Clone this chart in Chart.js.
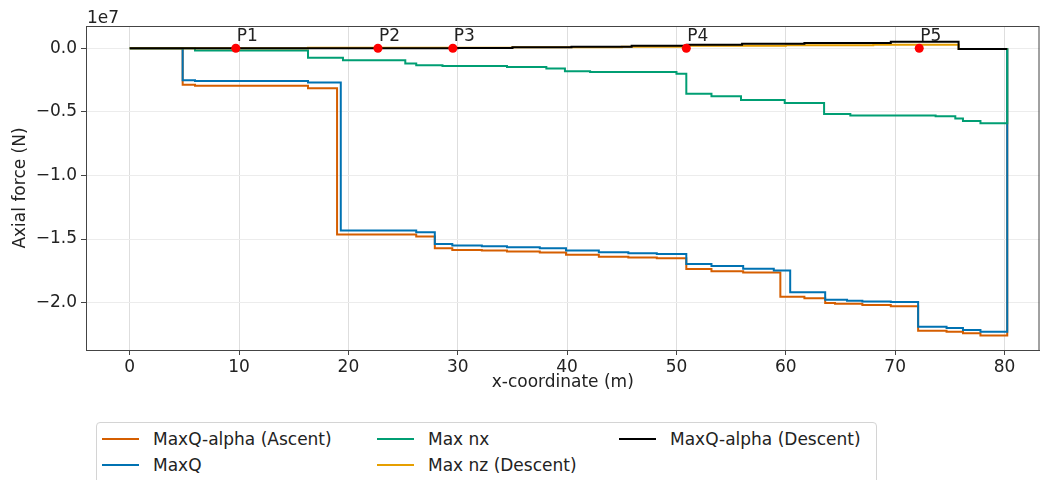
<!DOCTYPE html>
<html>
<head>
<meta charset="utf-8">
<script src="https://cdn.jsdelivr.net/npm/chart.js@4"></script>
<style>
body{margin:0;background:#fff;font-family:"DejaVu Sans",sans-serif;}
#wrap{position:relative;width:1044px;height:480px;overflow:hidden;}
#legend{position:absolute;left:96px;top:422px;width:781px;height:72px;border:1px solid #d4d4d4;border-radius:4px;box-sizing:border-box;
  padding:3px 0 0 5px;display:grid;grid-template-columns:275px 242px auto;grid-template-rows:26px 26px;grid-auto-flow:column;
  font-size:17px;color:#222;}
.item{display:flex;align-items:center;white-space:nowrap;}
.swatch{width:37px;height:2px;margin-right:14px;}
</style>
</head>
<body>
<div id="wrap">
  <canvas id="chart" width="1044" height="400"></canvas>
  <div id="legend"></div>
</div>
<script>
'use strict';

// step breakpoints (m) and axial force (units of 1e7 N), value holds until next breakpoint
let xAscent = [0, 4.84, 5.97, 16.3, 18.96, 26.2, 27.9, 29.5, 32.2, 34.5, 37.5, 39.9, 42.9, 45.6, 48.2, 50.9, 53.2, 56.1, 59.5, 61.7, 63.6, 64.5, 67.0, 69.6, 72.1, 74.7, 76.2, 77.8, 80.25];
let ascent = [0, -0.286, -0.294, -0.314, -1.465, -1.48, -1.572, -1.585, -1.59, -1.598, -1.606, -1.624, -1.638, -1.645, -1.651, -1.735, -1.753, -1.762, -1.953, -1.966, -2.003, -2.008, -2.018, -2.029, -2.22, -2.228, -2.241, -2.258, 0];

let xMaxQ = [0, 4.84, 5.97, 16.3, 19.3, 26.2, 27.9, 29.5, 32.2, 34.5, 37.5, 39.9, 42.9, 45.6, 48.2, 50.9, 53.2, 56.1, 58.9, 60.4, 63.6, 65.6, 67.0, 69.6, 72.1, 74.7, 76.2, 77.8, 80.25];
let maxQ = [0, -0.252, -0.258, -0.27, -1.433, -1.446, -1.538, -1.551, -1.556, -1.564, -1.572, -1.59, -1.604, -1.611, -1.617, -1.695, -1.712, -1.733, -1.748, -1.919, -1.976, -1.984, -1.99, -1.995, -2.189, -2.2, -2.215, -2.228, 0];

let xNx = [0, 5.97, 16.3, 19.5, 25.2, 26.2, 28.6, 34.5, 38.1, 39.8, 42.1, 50.0, 50.9, 53.2, 55.9, 59.9, 63.5, 65.9, 73.7, 75.5, 76.2, 77.8, 80.25];
let maxNx = [0, -0.018, -0.075, -0.095, -0.12, -0.133, -0.139, -0.147, -0.16, -0.181, -0.187, -0.2, -0.357, -0.378, -0.407, -0.43, -0.517, -0.528, -0.534, -0.552, -0.572, -0.59, 0];

let xNz = [0, 16.3, 35, 45, 51, 60, 68, 75.8, 80.25];
let maxNz = [0, 0.005, 0.008, 0.012, 0.02, 0.024, 0.028, -0.005, -0.005];

let xDescent = [0, 30, 35, 40.4, 45.9, 51, 56, 61.7, 69.6, 75.8, 80.25];
let descent = [0, 0.003, 0.007, 0.012, 0.02, 0.028, 0.035, 0.042, 0.052, -0.005, -0.005];

let pointNames = ['P1', 'P2', 'P3', 'P4', 'P5'];
let pointX = [9.7, 22.7, 29.55, 50.9, 72.2];
let pointY = [0, 0, 0, 0, 0];

let xTicks = [0, 10, 20, 30, 40, 50, 60, 70, 80];
let yTicks = [-2.0, -1.5, -1.0, -0.5, 0.0];

// series: label, colour
let series = [
  {name: 'MaxQ-alpha (Ascent)', color: '#D55E00', xs: xAscent, ys: ascent},
  {name: 'MaxQ', color: '#0072B2', xs: xMaxQ, ys: maxQ},
  {name: 'Max nx', color: '#009E73', xs: xNx, ys: maxNx},
  {name: 'Max nz (Descent)', color: '#E69F00', xs: xNz, ys: maxNz},
  {name: 'MaxQ-alpha (Descent)', color: '#000000', xs: xDescent, ys: descent},
];

function toPoints(xs, ys){
  return xs.map((x, i) => ({x: x, y: ys[i]}));
}

const FONT = {family: '"DejaVu Sans", sans-serif', size: 17};
const TEXT = '#222';

let datasets = [];
// red points on top
datasets.push({
  label: 'points',
  data: toPoints(pointX, pointY),
  showLine: false,
  pointRadius: 4.5,
  pointBackgroundColor: '#ff0000',
  pointBorderWidth: 0,
});
// later series drawn on top, so push in reverse
for (let i = series.length - 1; i >= 0; i--){
  let s = series[i];
  datasets.push({
    label: s.name,
    data: toPoints(s.xs, s.ys),
    borderColor: s.color,
    borderWidth: 2,
    stepped: true,
    pointRadius: 0,
    fill: false,
  });
}

// spines, offset text and point labels
const extras = {
  id: 'extras',
  afterDraw(chart){
    const {ctx, chartArea} = chart;
    ctx.save();
    ctx.strokeStyle = '#444';
    ctx.lineWidth = 1;
    ctx.strokeRect(chartArea.left + 0.5, chartArea.top + 0.5, chartArea.right - chartArea.left - 1, chartArea.bottom - chartArea.top);
    ctx.fillStyle = TEXT;
    ctx.font = '17px "DejaVu Sans", sans-serif';
    ctx.textAlign = 'left';
    ctx.textBaseline = 'alphabetic';
    ctx.fillText('1e7', chartArea.left + 1, chartArea.top - 3);
    const xs = chart.scales.x, ys = chart.scales.y;
    for (let i = 0; i < pointNames.length; i++){
      let px = xs.getPixelForValue(pointX[i]);
      let py = ys.getPixelForValue(pointY[i]);
      ctx.fillText(pointNames[i], px + 1, py - 7);
    }
    ctx.restore();
  }
};

new Chart(document.getElementById('chart'), {
  type: 'line',
  data: {datasets: datasets},
  options: {
    responsive: false,
    animation: false,
    devicePixelRatio: 1,
    layout: {padding: {left: 0, top: 26, right: 1, bottom: 5}},
    plugins: {legend: {display: false}, tooltip: {enabled: false}},
    scales: {
      x: {
        type: 'linear',
        min: -4.0,
        max: 83.2,
        afterBuildTicks: scale => { scale.ticks = xTicks.map(v => ({value: v})); },
        afterFit: scale => { scale.height = 45; },
        grid: {color: '#dedede', tickColor: '#444', tickLength: 5},
        border: {color: '#444'},
        ticks: {font: FONT, color: TEXT, padding: 2, maxRotation: 0},
        title: {display: true, text: 'x-coordinate (m)', font: FONT, color: TEXT, padding: {top: 0, bottom: 2}},
      },
      y: {
        type: 'linear',
        min: -2.372,
        max: 0.175,
        afterBuildTicks: scale => { scale.ticks = yTicks.map(v => ({value: v})); },
        afterFit: scale => { scale.width = 86; },
        grid: {color: '#ececec', tickColor: '#444', tickLength: 5},
        border: {color: '#444'},
        ticks: {font: FONT, color: TEXT, padding: 4, callback: v => v.toFixed(1).replace('-', '\u2212')},
        title: {display: true, text: 'Axial force (N)', font: FONT, color: TEXT, padding: {top: 10, bottom: 0}},
      },
    },
  },
  plugins: [extras],
});

// legend, column-major like the original
let legend = document.getElementById('legend');
for (let s of series){
  let item = document.createElement('div');
  item.className = 'item';
  let sw = document.createElement('span');
  sw.className = 'swatch';
  sw.style.background = s.color;
  item.appendChild(sw);
  item.appendChild(document.createTextNode(s.name));
  legend.appendChild(item);
}
</script>
</body>
</html>
